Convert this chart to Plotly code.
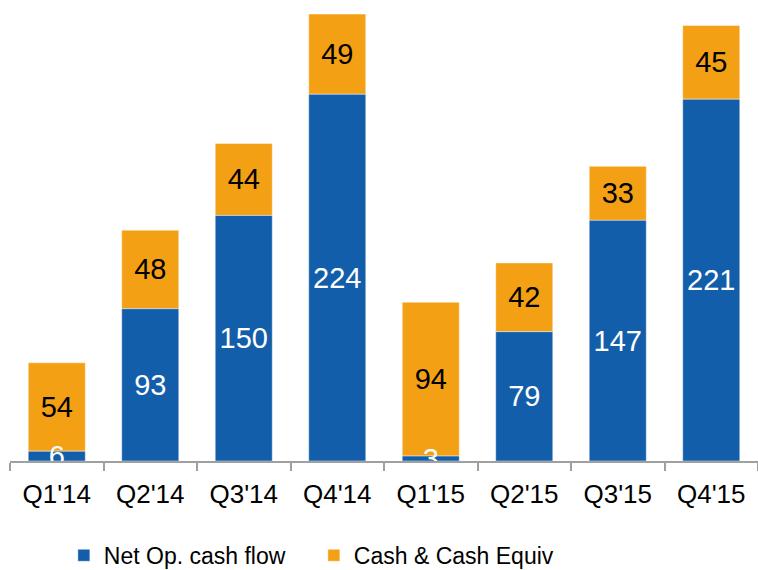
import plotly.graph_objects as go

categories = ["Q1'14", "Q2'14", "Q3'14", "Q4'14", "Q1'15", "Q2'15", "Q3'15", "Q4'15"]
net_op_cash_flow = [6, 93, 150, 224, 3, 79, 147, 221]
cash_equiv = [54, 48, 44, 49, 94, 42, 33, 45]

BLUE = "#135EAA"
ORANGE = "#F4A014"
FONT = "Arial, Liberation Sans, sans-serif"

fig = go.Figure()
# orange segments sit on top of the blue ones (base = blue value); drawn first so
# the blue segment labels render above them
fig.add_trace(go.Bar(
    x=categories, y=cash_equiv, base=net_op_cash_flow, name="Cash & Cash Equiv",
    marker=dict(color=ORANGE, line=dict(color="rgba(255,255,255,0.6)", width=0.75)),
    text=[str(v) for v in cash_equiv], textposition="inside",
    insidetextanchor="middle", textangle=0,
    insidetextfont=dict(color="black", size=29, family=FONT),
))
fig.add_trace(go.Bar(
    x=categories, y=net_op_cash_flow, name="Net Op. cash flow",
    marker=dict(color=BLUE, line=dict(color="rgba(255,255,255,0.6)", width=0.75)),
    text=[str(v) for v in net_op_cash_flow], textposition="inside",
    insidetextanchor="middle", textangle=0,
    insidetextfont=dict(color="white", size=29, family=FONT),
))

fig.update_layout(
    width=758, height=570,
    barmode="overlay", bargap=0.39,
    plot_bgcolor="white", paper_bgcolor="white",
    margin=dict(l=10, r=0, t=0, b=109, autoexpand=False),
    font=dict(family=FONT, color="black"),
    uniformtext=dict(minsize=29, mode="show"),
    showlegend=True,
    legend=dict(
        orientation="h", x=0.072, xanchor="left", y=-0.158, yanchor="top",
        font=dict(size=23, family=FONT), entrywidth=205, itemwidth=30,
        traceorder="reversed",
    ),
    xaxis=dict(
        showline=True, linecolor="#A0A0A0", linewidth=1.5,
        ticks="outside", tickson="boundaries", ticklen=8, tickcolor="#A0A0A0",
        tickwidth=1.5, tickfont=dict(size=26, family=FONT, color="black"),
        ticklabelstandoff=9,
        showgrid=False, automargin=False,
    ),
    yaxis=dict(range=[0, 281.6], visible=False, showgrid=False, automargin=False),
)

fig.write_html(
    "out.html",
    config={"displayModeBar": False},
    post_script="document.body.style.margin='0';document.body.style.overflow='hidden';",
)
